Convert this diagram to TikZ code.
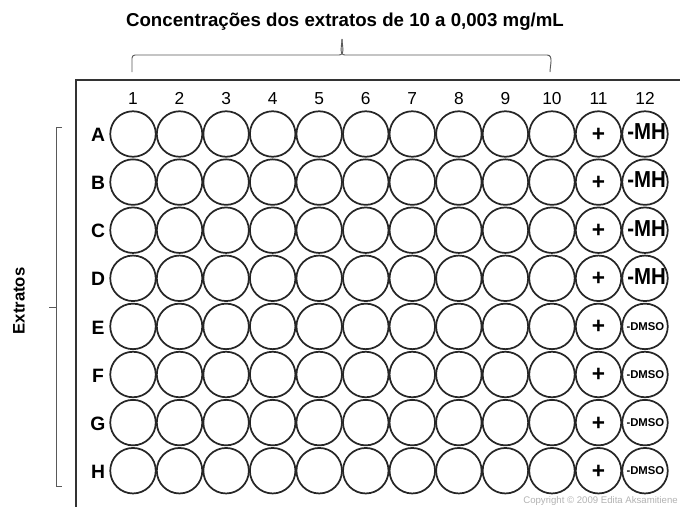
\documentclass[tikz,border=0pt]{standalone}
\usepackage{fontspec}
\setmainfont{Liberation Sans}
\begin{document}
\begin{tikzpicture}[x=0.75pt,y=-0.75pt,
  well/.style={circle,draw=black!85,line width=1.3pt,minimum size=45.5*0.75pt,inner sep=0pt},
  collab/.style={font=\fontsize{13}{13}\selectfont,anchor=base},
  rowlab/.style={font=\fontsize{14.5}{14.5}\bfseries\selectfont},
  wlab/.style={inner sep=0pt,anchor=center},
  brk/.style={draw=black!65,line width=0.7pt},
  plate/.style={draw=black!80,line width=1.8pt},
  every node/.style={text=black}]
\useasboundingbox (0,0) rectangle (680,507);
% plate border
\coordinate (ptl) at (76,80);
\coordinate (ptr) at (680,80);
\coordinate (pbl) at (76,507);
\draw[plate] (ptr) -- (ptl) -- (pbl);
% title and brace
\node[font=\fontsize{14}{14}\bfseries\selectfont,anchor=base] (title) at (345,26) {Concentrações dos extratos de 10 a 0,003 mg/mL};
\coordinate (bl) at (132,72);
\coordinate (br) at (550,72);
\coordinate (bm) at (342,39);
\draw[brk] (bl) -- (132,58) to[out=90,in=180] (135,55) -- (339,55) to[out=0,in=-90] (bm);
\draw[brk] (bm) to[out=-90,in=180] (345,55) -- (547,55) to[out=0,in=90] (br);
% left bracket
\node[font=\fontsize{12.5}{12.5}\bfseries\selectfont,rotate=90] (extr) at (19,301) {Extratos};
\coordinate (lt) at (62,127);
\coordinate (lb) at (62,486);
\coordinate (lm) at (49,307);
\draw[brk] (lt) -- (56,127) -- (56,486) -- (lb);
\draw[brk] (56,307) -- (lm);
% column labels
\foreach \c in {1,...,12}{
  \node[collab] (c\c) at ({133+46.55*(\c-1)},104) {\c};
}
% rows
\foreach \r [count=\i from 0] in {A,B,C,D,E,F,G,H}{
  \node[rowlab] (r\r) at (98,{135+48.1*\i}) {\r};
  \foreach \c in {1,...,10}{
    \node[well] (w\r\c) at ({133+46.55*(\c-1)},{134+48.1*\i}) {};
  }
  \node[well] (w\r11) at (598.5,{134+48.1*\i}) {};
  \node[wlab,font=\fontsize{17}{17}\bfseries\selectfont] (p\r) at ([yshift=-0.6pt]w\r11.center) {+};
}
\foreach \r [count=\i from 0] in {A,B,C,D}{
  \node[well] (w\r12) at (645,{134+48.1*\i}) {};
  \node[wlab,font=\fontsize{17}{17}\bfseries\selectfont] (m\r) at ([xshift=1.2pt,yshift=1.6pt]w\r12.center) {\scalebox{0.9}[1.02]{-MH}};
}
\foreach \r [count=\i from 4] in {E,F,G,H}{
  \node[well] (w\r12) at (645,{134+48.1*\i}) {};
  \node[wlab,font=\fontsize{8.5}{8.5}\bfseries\selectfont] (m\r) at ([xshift=0.3pt]w\r12.center) {-DMSO};
}
% copyright
\node[font=\fontsize{7.2}{7.2}\selectfont,text=black!30,anchor=base east,inner sep=0pt] (copy) at (678,503) {Copyright © 2009 Edita Aksamitiene};
\end{tikzpicture}
\end{document}
